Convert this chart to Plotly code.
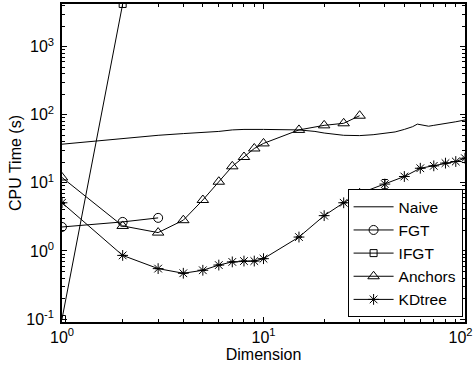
import plotly.graph_objects as go

# ---- data ----
naive_x = [1, 2, 3, 4, 5, 6, 7, 8, 10, 12, 15, 18, 20, 25, 30, 35, 40, 45, 50, 55, 58, 62, 66, 70, 75, 80, 90, 100]
naive_y = [37, 45, 50, 53, 55, 57, 60, 61, 61, 61, 60, 57, 54, 50, 49.5, 51, 53, 56, 61, 67, 73, 71, 68, 70, 72, 74, 79, 84]

fgt_x = [1, 2, 3]
fgt_y = [2.25, 2.67, 3.06]

ifgt_x = [1, 2]
ifgt_y = [0.1, 4250]

anchors_x = [1, 2, 3, 4, 5, 6, 7, 8, 9, 10, 15, 20, 25, 30]
anchors_y = [12, 2.33, 1.86, 2.83, 5.6, 10.4, 17.5, 24, 32, 38, 60, 70, 75, 97]

kd_x = [1, 2, 3, 4, 5, 6, 7, 8, 9, 10, 15, 20, 25, 30, 40, 50, 60, 70, 80, 90, 100]
kd_y = [5.1, 0.86, 0.55, 0.47, 0.52, 0.62, 0.69, 0.71, 0.71, 0.77, 1.6, 3.3, 5.1, 7.0, 9.6, 12.4, 16.4, 17.8, 19.5, 20.6, 23]
kd_err_plus = [None] * 14 + [1.6] + [None] * 6
kd_err_minus = [None] * 14 + [1.4] + [None] * 6

ytick_vals = [0.1, 1, 10, 100, 1000]
ytick_text = ["10<sup>-1</sup>", "10<sup>0</sup>", "10<sup>1</sup>", "10<sup>2</sup>", "10<sup>3</sup>"]
xtick_vals = [1, 10, 100]
xtick_text = ["10<sup>0</sup>", "10<sup>1</sup>", "10<sup>2</sup>\u00a0\u00a0"]

FONT = "Liberation Sans, Arial, Helvetica, sans-serif"
FS = 16

fig = go.Figure()
line = dict(color="black", width=1)

fig.add_trace(go.Scatter(x=naive_x, y=naive_y, mode="lines", name="Naive", line=line))
fig.add_trace(go.Scatter(x=fgt_x, y=fgt_y, mode="lines+markers", name="FGT", line=line,
                         marker=dict(symbol="circle-open", size=9, color="black", line=dict(width=1))))
fig.add_trace(go.Scatter(x=ifgt_x, y=ifgt_y, mode="lines+markers", name="IFGT", line=line,
                         marker=dict(symbol="square-open", size=7, color="black", line=dict(width=1))))
fig.add_trace(go.Scatter(x=anchors_x, y=anchors_y, mode="lines+markers", name="Anchors", line=line,
                         marker=dict(symbol="triangle-up-open", size=10, color="black", line=dict(width=1))))
fig.add_trace(go.Scatter(x=kd_x, y=kd_y, mode="lines+markers", name="KDtree", line=line,
                         marker=dict(symbol="asterisk-open", size=9, color="black", line=dict(width=1)),
                         error_y=dict(type="data", symmetric=False, array=kd_err_plus,
                                      arrayminus=kd_err_minus, color="black", thickness=1, width=3)))

minor_vals_y = [m * 10 ** e for e in range(-2, 4) for m in range(2, 10)]
minor_vals_x = [m * 10 ** e for e in range(0, 2) for m in range(2, 10)]

fig.update_xaxes(type="log", range=[0, 2], tickmode="array", tickvals=xtick_vals, ticktext=xtick_text,
                 ticks="inside", ticklen=5, tickcolor="black", showline=True, linecolor="black",
                 linewidth=1.5, mirror="ticks", showgrid=False, zeroline=False,
                 ticklabeloverflow="allow", automargin=False,
                 minor=dict(tickmode="array", tickvals=minor_vals_x, ticks="inside", ticklen=3,
                            tickcolor="black", showgrid=False),
                 title=dict(text="Dimension", standoff=2, font=dict(size=FS, family=FONT, color="black")),
                 tickfont=dict(size=FS, family=FONT, color="black"))
fig.update_yaxes(type="log", range=[-1.044, 3.628], tickmode="array", tickvals=ytick_vals, ticktext=ytick_text,
                 ticks="inside", ticklen=5, tickcolor="black", showline=True, linecolor="black",
                 linewidth=1.5, mirror="ticks", showgrid=False, zeroline=False,
                 ticklabeloverflow="allow", automargin=False, ticklabelstandoff=3,
                 minor=dict(tickmode="array", tickvals=minor_vals_y, ticks="inside", ticklen=3,
                            tickcolor="black", showgrid=False),
                 title=dict(text="CPU Time (s)", standoff=1, font=dict(size=FS, family=FONT, color="black")),
                 tickfont=dict(size=FS, family=FONT, color="black"))

fig.update_layout(
    width=474, height=368,
    margin=dict(l=62, r=9, t=4, b=46, autoexpand=False),
    paper_bgcolor="white", plot_bgcolor="white",
    font=dict(family=FONT, size=15, color="black"),
    showlegend=True,
    legend=dict(x=0.994, y=0.015, xanchor="right", yanchor="bottom",
                bgcolor="white", bordercolor="black", borderwidth=1, itemwidth=40,
                font=dict(size=15.5, family=FONT, color="black"), tracegroupgap=0),
)

fig.write_html("out.html")
